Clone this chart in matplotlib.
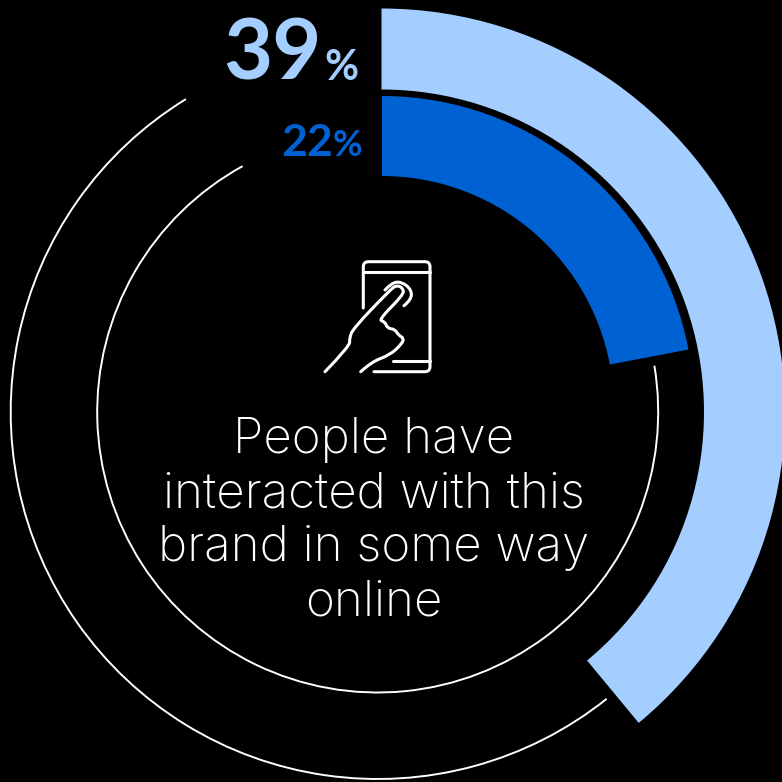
import matplotlib
matplotlib.use("Agg")
import matplotlib.pyplot as plt
from matplotlib.patches import Arc, PathPatch
from matplotlib.path import Path

# percentages per ring
outer_value = 39
inner_value = 22
label_lines = ["People have", "interacted with this", "brand in some way", "online"]

light = "#A4CEFF"
dark = "#0061D2"
H = 782

# thin rings: radius, start/end angle (deg, matplotlib convention)
thin_rings = [(367, 121.5, 308.6), (280.5, 118.8, 369.5)]

# icon outlines, traced in reference pixels
phone = [(363.3, 308), (363.3, 272), (363.3, 261.7), (374, 261.7), (420, 261.7), (430, 261.7), (430, 272),
         (430, 361), (430, 371.7), (420, 371.7), (374, 371.7)]
bar_top = [(363.3, 272.3), (430, 272.3)]
bar_bottom = [(392.7, 361), (430, 361)]
tip = [(385, 290), (391.7, 282.7), (401.7, 281.7), (411.7, 290), (411, 300), (404, 305.7)]
hand = [(325, 371.7), (350, 346), (349.3, 338.3), (353.3, 328.3), (390, 290), (396.7, 285), (403.3, 288.3),
        (403.3, 295), (378.3, 320), (385, 321.7), (387.3, 328.3), (395, 329.3), (398.3, 335), (404, 338.3),
        (401.7, 344), (390, 355), (371.7, 361.7), (360.7, 371.7)]


def smooth(points):
    # quadratic curve through the midpoints, the points are the controls
    pts = [(x, H - y) for x, y in points]
    verts = [pts[0]]
    codes = [Path.MOVETO]
    for i in range(1, len(pts) - 1):
        end = pts[i + 1] if i == len(pts) - 2 else ((pts[i][0] + pts[i + 1][0]) / 2, (pts[i][1] + pts[i + 1][1]) / 2)
        verts += [pts[i], end]
        codes += [Path.CURVE3, Path.CURVE3]
    if len(pts) == 2:
        verts.append(pts[1])
        codes.append(Path.LINETO)
    return Path(verts, codes)


fig = plt.figure(figsize=(7.82, 7.82), dpi=100, facecolor="black")
ax = fig.add_axes([0, 0, 1, 1])
ax.set_facecolor("black")

ax.pie([outer_value, 100 - outer_value], colors=[light, "none"], startangle=90, counterclock=False,
       radius=403.5, center=(381.5, H - 412), wedgeprops=dict(width=81, linewidth=0), frame=True)
ax.pie([inner_value, 100 - inner_value], colors=[dark, "none"], startangle=90, counterclock=False,
       radius=312, center=(382, H - 408), wedgeprops=dict(width=80, linewidth=0), frame=True)

for r, a, b in thin_rings:
    ax.add_patch(Arc((377.7, H - 412), 2 * r, 2 * r, theta1=a, theta2=b, color="white", lw=1.4))

for line in [phone, bar_top, bar_bottom, tip, hand]:
    ax.add_patch(PathPatch(smooth(line), fill=False, edgecolor="white", lw=2.2, capstyle="round", joinstyle="round"))

ax.text(322, H - 80, str(outer_value), color=light, fontsize=61, fontweight="bold", family="Lato",
        ha="right", va="baseline")
ax.text(359, H - 80, "%", color=light, fontsize=30, fontweight="bold", family="Lato", ha="right", va="baseline")
ax.text(333, H - 156, str(inner_value), color=dark, fontsize=32, fontweight="bold", family="Lato",
        ha="right", va="baseline")
ax.text(362, H - 156, "%", color=dark, fontsize=26, fontweight="bold", family="Lato", ha="right", va="baseline")

for i, line in enumerate(label_lines):
    ax.text(374, H - (453 + 54 * i), line, color="white", fontsize=35.5, fontweight="light", family="Inter",
            ha="center", va="baseline")

ax.set_xlim(0, H)
ax.set_ylim(0, H)
ax.set_aspect("equal")
ax.axis("off")
fig.savefig("out.png", dpi=100, facecolor="black")
